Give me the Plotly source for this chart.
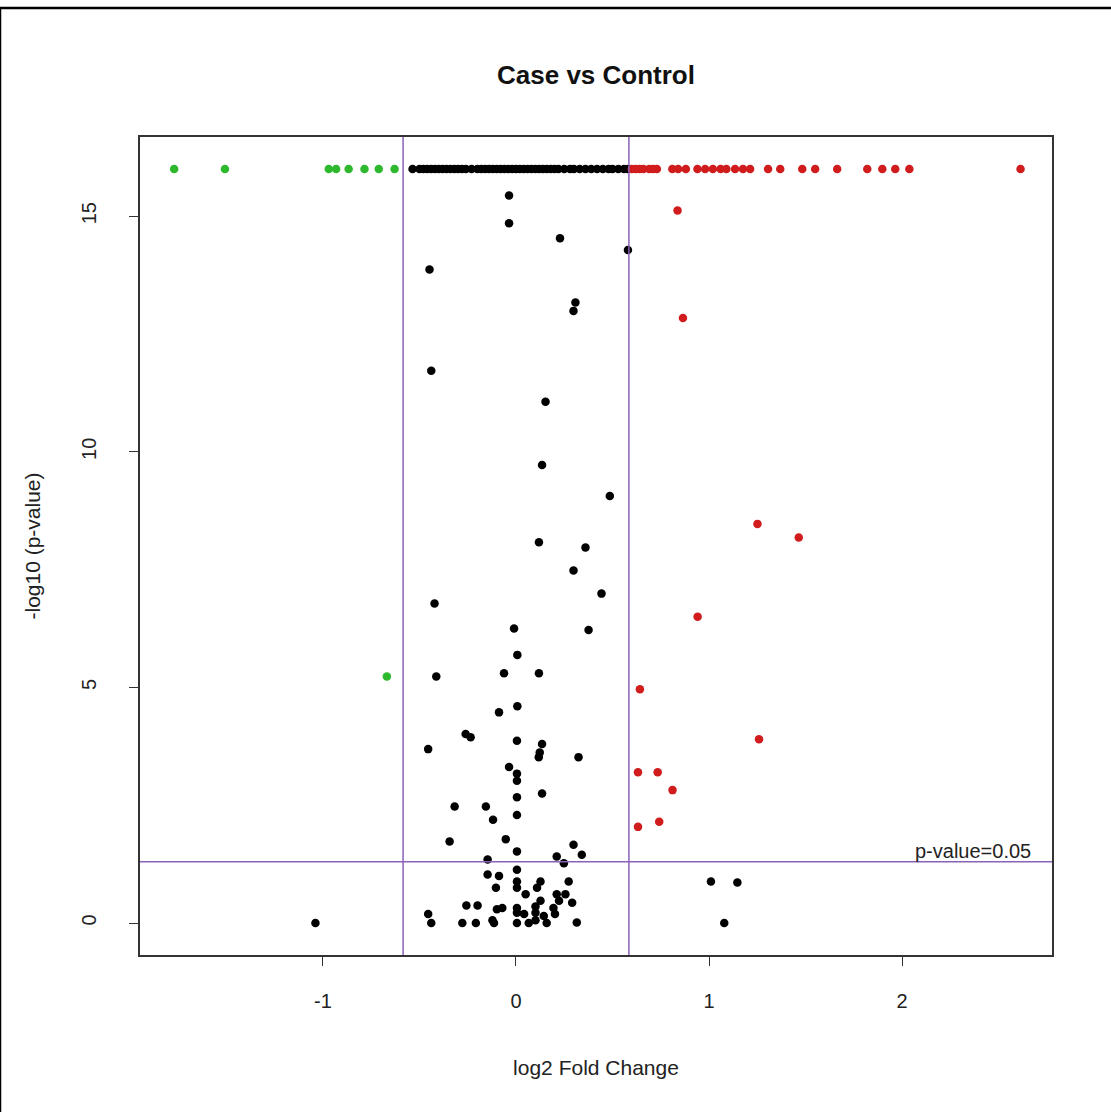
import plotly.graph_objects as go

# ---- data ----
green_x = [-1.771, -1.508, -0.970, -0.932, -0.867, -0.785, -0.711, -0.629, -0.669]
green_y = [16, 16, 16, 16, 16, 16, 16, 16, 5.23]

red_x = [0.60, 0.62, 0.64, 0.66, 0.69, 0.71, 0.73,
         0.81, 0.84, 0.88, 0.94, 0.98, 1.02, 1.06, 1.09, 1.135, 1.176, 1.213,
         1.306, 1.369, 1.483, 1.550, 1.664, 1.820, 1.898, 1.965, 2.038, 2.614,
         0.837, 0.865, 1.251, 1.465, 0.941, 0.642, 1.259,
         0.632, 0.734, 0.811, 0.632, 0.742]
red_y = [16, 16, 16, 16, 16, 16, 16,
         16, 16, 16, 16, 16, 16, 16, 16, 16, 16, 16,
         16, 16, 16, 16, 16, 16, 16, 16, 16, 16,
         15.12, 12.84, 8.47, 8.18, 6.50, 4.96, 3.90,
         3.20, 3.20, 2.82, 2.04, 2.15]

black_top_x = [-0.536, -0.50, -0.48, -0.46, -0.44, -0.42, -0.40, -0.38, -0.36, -0.34,
               -0.32, -0.30, -0.28, -0.26, -0.23, -0.20, -0.18, -0.16, -0.14, -0.12,
               -0.10, -0.08, -0.06, -0.04, -0.02, 0.00, 0.02, 0.04, 0.06, 0.08,
               0.10, 0.12, 0.14, 0.16, 0.18, 0.20, 0.22, 0.25, 0.28, 0.30,
               0.33, 0.36, 0.39, 0.42, 0.45, 0.48, 0.50, 0.53, 0.56, 0.58]
black_x = [-0.036, -0.036, 0.228, 0.580, -0.448, 0.308, 0.298, -0.439, 0.153, 0.135,
           0.486, 0.119, 0.360, 0.298, 0.443, -0.422, -0.010, 0.376, 0.007, -0.413,
           -0.062, 0.119, 0.007, -0.088,
           -1.039, -0.455, -0.261, -0.235, 0.005, 0.135, 0.123, 0.118, 0.324, -0.036,
           0.005, 0.005, 0.135, 0.005, -0.318, -0.156, 0.005, -0.119, -0.344, -0.053,
           0.298, 0.005, 0.341, 0.211, -0.147, 0.248, 0.005, -0.147, -0.088, 0.005,
           0.127, 0.273, -0.104, 0.005, 0.109, 0.050, 0.211, 0.256, 0.127, 0.223,
           0.291, -0.257, -0.199, -0.071, -0.099, 0.005, 0.101, 0.194, 0.005, 0.042,
           0.101, 0.202, -0.455, -0.122, 0.101, 0.144, -0.439, -0.278, -0.208, -0.114,
           0.005, 0.066, 0.159, 0.315,
           1.010, 1.147, 1.079]
black_y = [15.44, 14.85, 14.53, 14.28, 13.87, 13.17, 12.99, 11.72, 11.06, 9.72,
           9.06, 8.08, 7.97, 7.48, 6.99, 6.78, 6.25, 6.22, 5.69, 5.23,
           5.30, 5.30, 4.60, 4.47,
           0.00, 3.69, 4.01, 3.94, 3.87, 3.80, 3.62, 3.52, 3.52, 3.31,
           3.17, 3.02, 2.75, 2.67, 2.47, 2.47, 2.29, 2.19, 1.73, 1.78,
           1.66, 1.52, 1.45, 1.41, 1.35, 1.27, 1.13, 1.03, 1.00, 0.88,
           0.88, 0.88, 0.75, 0.75, 0.75, 0.61, 0.61, 0.61, 0.47, 0.47,
           0.43, 0.37, 0.37, 0.32, 0.29, 0.32, 0.35, 0.32, 0.22, 0.19,
           0.22, 0.19, 0.19, 0.06, 0.06, 0.15, 0.00, 0.00, 0.00, 0.00,
           0.00, 0.00, 0.00, 0.01,
           0.88, 0.86, 0.00]

fc_cut = 0.585
p_cut = 1.301
x_ticks = [-1, 0, 1, 2]
y_ticks = [0, 5, 10, 15]

FONT = "Liberation Sans, Arial, sans-serif"
LINE = "#8a62b8"

fig = go.Figure()
mk = dict(size=8.5, line=dict(width=0))
fig.add_trace(go.Scatter(x=black_top_x, y=[16] * len(black_top_x), mode="markers",
                         marker=dict(color="black", **mk), showlegend=False))
fig.add_trace(go.Scatter(x=black_x, y=black_y, mode="markers",
                         marker=dict(color="black", **mk), showlegend=False))
fig.add_trace(go.Scatter(x=red_x, y=red_y, mode="markers",
                         marker=dict(color="#d01c1c", **mk), showlegend=False))
fig.add_trace(go.Scatter(x=green_x, y=green_y, mode="markers",
                         marker=dict(color="#2db82d", **mk), showlegend=False))

for xv in (-fc_cut, fc_cut):
    fig.add_shape(type="line", xref="x", yref="paper", x0=xv, x1=xv, y0=0, y1=1,
                  line=dict(color=LINE, width=1.5))
fig.add_shape(type="line", xref="paper", yref="y", x0=0, x1=1, y0=p_cut, y1=p_cut,
              line=dict(color=LINE, width=1.5))

# outer figure border
fig.add_shape(type="rect", xref="paper", yref="paper",
              x0=-140/912, x1=1.2, y0=-0.3, y1=1 + 129/818,
              line=dict(color="black", width=2.5), layer="below")

fig.add_annotation(x=2.681, y=p_cut, xref="x", yref="y", text="p-value=0.05",
                   showarrow=False, xanchor="right", yanchor="bottom", yshift=-2,
                   font=dict(family=FONT, size=20, color="#222"))

fig.update_layout(
    width=1111, height=1112,
    margin=dict(l=140, r=59, t=137, b=157),
    paper_bgcolor="white", plot_bgcolor="white",
    title=dict(text="<b>Case vs Control</b>", x=596/1111, xanchor="center",
               y=1 - 75/1112, yanchor="middle",
               font=dict(family=FONT, size=26, color="#111")),
    font=dict(family=FONT, color="#222"),
)
fig.update_xaxes(range=[-1.948, 2.777], tickvals=x_ticks, ticktext=[str(v) for v in x_ticks],
                 showgrid=False, zeroline=False, showline=True, mirror=True,
                 linecolor="#333", linewidth=1.5, ticks="outside", ticklen=9,
                 tickcolor="#333", tickfont=dict(size=20, family=FONT), ticklabelstandoff=18,
                 title=dict(text="log2 Fold Change", font=dict(size=21, family=FONT), standoff=50))
fig.update_yaxes(range=[-0.679, 16.68], tickvals=y_ticks, ticktext=[str(v) for v in y_ticks],
                 showgrid=False, zeroline=False, showline=True, mirror=True,
                 linecolor="#333", linewidth=1.5, ticks="outside", ticklen=9,
                 tickcolor="#333", tickangle=-90, tickfont=dict(size=20, family=FONT),
                 ticklabelstandoff=25,
                 title=dict(text="-log10 (p-value)", font=dict(size=21, family=FONT), standoff=32))

fig.write_html("out.html")
